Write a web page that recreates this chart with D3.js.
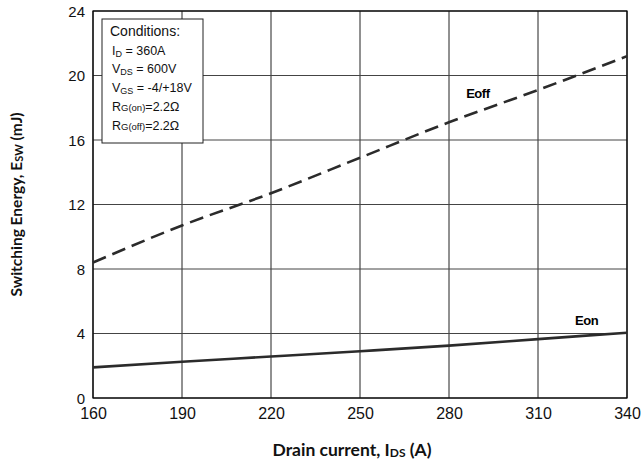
<!DOCTYPE html>
<html>
<head>
<meta charset="utf-8">
<script src="https://cdn.jsdelivr.net/npm/d3@7"></script>
<style>
  body { margin: 0; background: #fff; }
  svg { display: block; }
</style>
</head>
<body>
<div id="chart"></div>
<script>
// data
const current = [160, 190, 220, 250, 280, 310, 340];
const eoff = [8.4, 10.7, 12.7, 14.9, 17.1, 19.1, 21.2];
const eon = [1.9, 2.25, 2.57, 2.9, 3.25, 3.65, 4.05];
const xTicks = [160, 190, 220, 250, 280, 310, 340];
const yTicks = [0, 4, 8, 12, 16, 20, 24];

const width = 642, height = 463;
const margin = {top: 11, right: 15, bottom: 65, left: 93};
const w = width - margin.left - margin.right;
const h = height - margin.top - margin.bottom;

const svg = d3.select("#chart")
    .append("svg")
    .attr("width", width)
    .attr("height", height);

const g = svg.append("g")
    .attr("transform", "translate(" + margin.left + "," + margin.top + ")");

const x = d3.scaleLinear().domain([160, 340]).range([0, w]);
const y = d3.scaleLinear().domain([0, 24]).range([h, 0]);

// grid
g.selectAll("line.vgrid")
    .data(xTicks)
    .enter().append("line")
    .attr("x1", d => x(d)).attr("x2", d => x(d))
    .attr("y1", 0).attr("y2", h)
    .attr("stroke", "#222")
    .attr("stroke-width", 1);

g.selectAll("line.hgrid")
    .data(yTicks)
    .enter().append("line")
    .attr("x1", 0).attr("x2", w)
    .attr("y1", d => y(d)).attr("y2", d => y(d))
    .attr("stroke", "#444")
    .attr("stroke-width", 1);

g.append("rect")
    .attr("width", w).attr("height", h)
    .attr("fill", "none")
    .attr("stroke", "#000")
    .attr("stroke-width", 1.2);

// axes (labels only)
const xAxis = g.append("g")
    .attr("transform", "translate(0," + h + ")")
    .call(d3.axisBottom(x).tickValues(xTicks).tickSize(0).tickPadding(10));
const yAxis = g.append("g")
    .call(d3.axisLeft(y).tickValues(yTicks).tickSize(0).tickPadding(8));
[xAxis, yAxis].forEach(a => {
    a.select(".domain").remove();
    a.selectAll("text")
        .attr("fill", "#111")
        .style("font-family", "'Liberation Sans', Arial, sans-serif");
});
xAxis.selectAll("text").style("font-size", "16px");
yAxis.selectAll("text").style("font-size", "15px").attr("dy", "0.36em");

// curves
const line = d3.line()
    .x((d, i) => x(current[i]))
    .y(d => y(d))
    .curve(d3.curveMonotoneX);

g.append("path")
    .datum(eoff)
    .attr("d", line)
    .attr("fill", "none")
    .attr("stroke", "#2b2b2b")
    .attr("stroke-width", 2.6)
    .attr("stroke-dasharray", "14,7");

g.append("path")
    .datum(eon)
    .attr("d", line)
    .attr("fill", "none")
    .attr("stroke", "#2b2b2b")
    .attr("stroke-width", 2.6);

// curve labels
const lblFont = "'Liberation Sans', Arial, sans-serif";
g.append("text")
    .attr("x", x(285.8)).attr("y", y(18.6))
    .style("font-family", lblFont).style("font-size", "13px")
    .style("font-weight", "bold").style("letter-spacing", "-0.5px")
    .text("Eoff");
g.append("text")
    .attr("x", x(322.5)).attr("y", y(4.5))
    .style("font-family", lblFont).style("font-size", "13px")
    .style("font-weight", "bold").style("letter-spacing", "-0.5px")
    .text("Eon");

// conditions box
const box = svg.append("g").attr("transform", "translate(102,19)");
box.append("rect")
    .attr("width", 101).attr("height", 124)
    .attr("fill", "#fff")
    .attr("stroke", "#222")
    .attr("stroke-width", 1);

const cond = [
    [["Conditions:", 0]],
    [["I", 0], ["D", 1], [" = 360A", 0]],
    [["V", 0], ["DS", 1], [" = 600V", 0]],
    [["V", 0], ["GS", 1], [" = -4/+18V", 0]],
    [["R", 0], ["G(on)", 2], ["=2.2\u03A9", 0]],
    [["R", 0], ["G(off)", 2], ["=2.2\u03A9", 0]]
];
cond.forEach(function(parts, i) {
    const t = box.append("text")
        .attr("x", i === 0 ? 8 : 10)
        .attr("y", 17 + i * 18.7)
        .style("font-family", lblFont)
        .style("font-size", i === 0 ? "14px" : "12.5px")
        .attr("fill", "#111");
    let shifted = 0;
    parts.forEach(function(p) {
        const ts = t.append("tspan").text(p[0]);
        if (p[1] === 1) {
            ts.style("font-size", "9px").attr("dy", 2);
            shifted = 2;
        } else if (p[1] === 2) {
            ts.style("font-size", "9.5px");
        } else if (shifted) {
            ts.attr("dy", -shifted);
            shifted = 0;
        }
    });
});

// axis titles
const titleFont = "Lato, 'Open Sans', sans-serif";
const xt = svg.append("text")
    .attr("x", 352)
    .attr("y", 456)
    .attr("text-anchor", "middle")
    .style("font-family", titleFont)
    .style("font-size", "17.5px")
    .style("font-weight", "bold")
    .attr("fill", "#111");
xt.append("tspan").text("Drain current, I");
xt.append("tspan").text("DS").style("font-size", "12px").attr("dy", 1);
xt.append("tspan").text(" (A)").attr("dy", -1);

const yt = svg.append("text")
    .attr("transform", "translate(22," + (margin.top + h / 2) + ") rotate(-90)")
    .attr("text-anchor", "middle")
    .style("font-family", titleFont)
    .style("font-size", "15.5px")
    .style("font-weight", "bold")
    .attr("fill", "#111");
yt.append("tspan").text("Switching Energy, E");
yt.append("tspan").text("SW").style("font-size", "11px").attr("dy", 1);
yt.append("tspan").text(" (mJ)").attr("dy", -1);
</script>
</body>
</html>
